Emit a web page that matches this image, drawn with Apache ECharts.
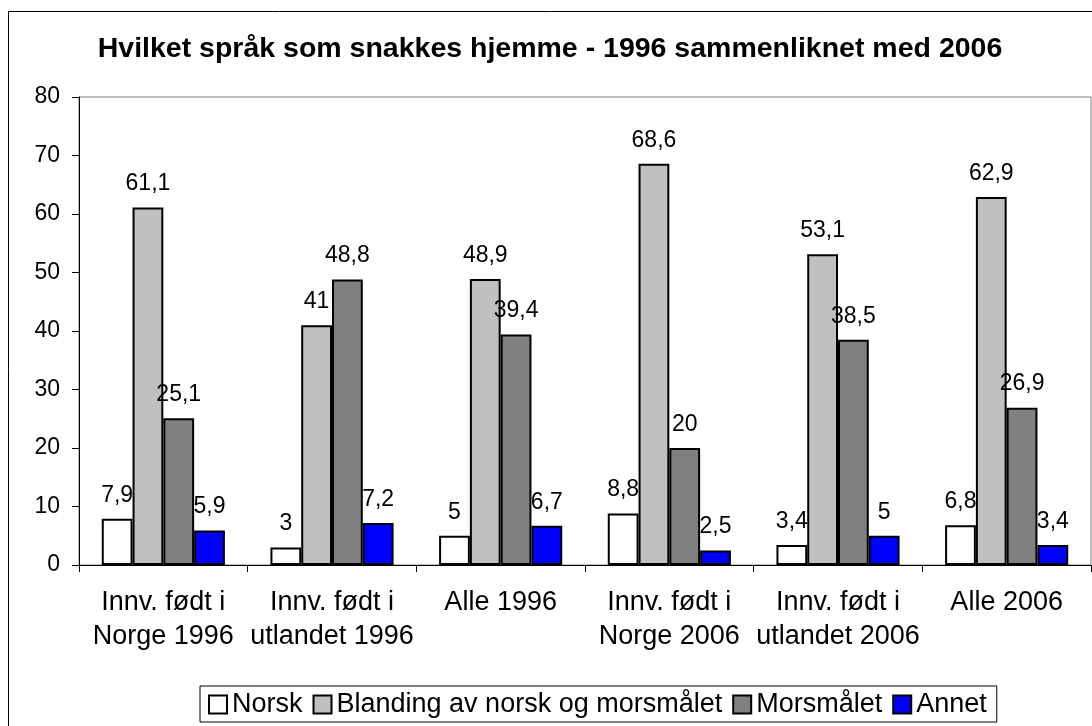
<!DOCTYPE html>
<html>
<head>
<meta charset="utf-8">
<script src="https://cdn.jsdelivr.net/npm/echarts@6/dist/echarts.min.js"></script>
<style>
  html, body { margin: 0; padding: 0; background: #fff; }
  #chart { width: 1092px; height: 726px; }
</style>
</head>
<body>
<div id="chart"></div>
<script>
// data
var categories = ['Innv. født i\nNorge 1996', 'Innv. født i\nutlandet 1996', 'Alle 1996',
  'Innv. født i\nNorge 2006', 'Innv. født i\nutlandet 2006', 'Alle 2006'];
var norsk = [7.9, 3, 5, 8.8, 3.4, 6.8];
var blanding = [61.1, 41, 48.9, 68.6, 53.1, 62.9];
var morsmalet = [25.1, 48.8, 39.4, 20, 38.5, 26.9];
var annet = [5.9, 7.2, 6.7, 2.5, 5, 3.4];
var yTicks = [0, 10, 20, 30, 40, 50, 60, 70, 80];

var FONT = '"Liberation Sans", Arial, sans-serif';

function makeSeries(name, data, color) {
  return {
    name: name,
    type: 'bar',
    data: data,
    barGap: '0%',
    barCategoryGap: '27%',
    itemStyle: { color: color, borderColor: '#000', borderWidth: 2 },
    label: {
      show: true,
      position: 'top',
      distance: 12,
      color: '#000',
      fontFamily: FONT,
      fontSize: 23,
      formatter: function (p) { return String(p.value).replace('.', ','); }
    }
  };
}

var chart = echarts.init(document.getElementById('chart'));
chart.setOption({
  animation: false,
  title: {
    text: 'Hvilket språk som snakkes hjemme - 1996 sammenliknet med 2006',
    left: 545,
    textAlign: 'center',
    top: 30,
    textStyle: { fontFamily: FONT, fontSize: 28.5, fontWeight: 'bold', color: '#000' }
  },
  graphic: [{
    type: 'rect',
    shape: { x: 8.5, y: 11.5, width: 1200, height: 900 },
    style: { fill: 'none', stroke: '#000', lineWidth: 1 },
    silent: true
  }],
  legend: {
    left: 200,
    top: 686,
    padding: [5, 10, 4, 8],
    borderColor: '#000',
    borderWidth: 1,
    itemWidth: 18,
    itemHeight: 18,
    itemGap: 10,
    icon: 'rect',
    textStyle: { fontFamily: FONT, fontSize: 27, color: '#000' }
  },
  grid: {
    left: 79, right: 1, top: 97, bottom: 161,
    show: true, borderColor: '#808080', borderWidth: 1
  },
  xAxis: {
    type: 'category',
    data: categories,
    axisLine: { lineStyle: { color: '#000', width: 1 } },
    axisTick: { show: true, length: 7, lineStyle: { color: '#000' } },
    axisLabel: {
      interval: 0,
      margin: 21,
      color: '#000',
      fontFamily: FONT,
      fontSize: 27,
      lineHeight: 34
    }
  },
  yAxis: {
    type: 'value',
    min: yTicks[0],
    max: yTicks[yTicks.length - 1],
    interval: yTicks[1] - yTicks[0],
    splitLine: { show: false },
    axisLine: { show: true, lineStyle: { color: '#000', width: 1 } },
    axisTick: { show: true, length: 7, lineStyle: { color: '#000' } },
    axisLabel: { margin: 19, color: '#000', fontFamily: FONT, fontSize: 23 }
  },
  series: [
    makeSeries('Norsk', norsk, '#ffffff'),
    makeSeries('Blanding av norsk og morsmålet', blanding, '#c0c0c0'),
    makeSeries('Morsmålet', morsmalet, '#808080'),
    makeSeries('Annet', annet, '#0000ff')
  ]
});
</script>
</body>
</html>
